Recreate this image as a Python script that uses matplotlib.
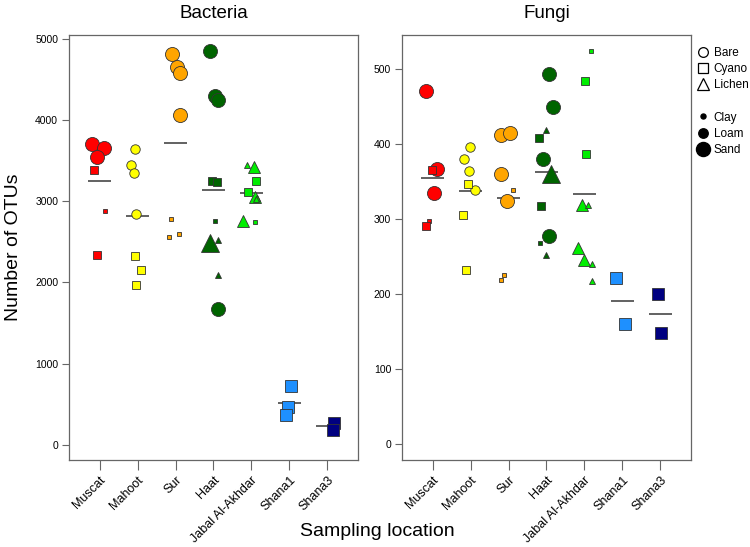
import numpy as np
import matplotlib.pyplot as plt
from matplotlib.lines import Line2D

plt.rcParams['font.family'] = 'Liberation Sans'

# Sampling locations and their colours
locations = ['Muscat', 'Mahoot', 'Sur', 'Haat', 'Jabal Al-Akhdar', 'Shana1', 'Shana3']
loc_colors = ['#FF0000', '#FFFF00', '#FFA500', '#006400', '#00EE00', '#1E90FF', '#000080']

# Bacteria: location (1-7), jittered x, OTUs, crust (B/C/L) and soil (c/l/s) per sample
bac_loc = [1]*6 + [2]*7 + [3]*7 + [4]*10 + [5]*9 + [6]*3 + [7]*2
bac_x = [0.80, 1.12, 0.94, 0.84, 1.15, 0.94,
         1.93, 1.83, 1.91, 1.97, 1.92, 2.10, 1.97,
         2.91, 3.03, 3.12, 3.12, 2.87, 3.08, 2.84,
         3.91, 4.04, 4.11, 4.12, 3.97, 4.09, 4.04, 3.91, 4.11, 4.11,
         4.89, 5.07, 5.12, 4.91, 5.09, 5.14, 5.11, 4.79, 5.10,
         6.03, 5.97, 5.91,
         7.17, 7.15]
bac_otus = [3708, 3655, 3544, 3383, 2878, 2343,
            3638, 3453, 3354, 2848, 2327, 2150, 1969,
            4821, 4653, 4579, 4065, 2787, 2598, 2565,
            4851, 4303, 4250, 1677, 3252, 3235, 2755, 2490, 2524, 2092,
            3449, 3424, 3248, 3112, 3058, 3040, 3025, 2758, 2750,
            728, 461, 366,
            265, 185]
bac_crust = 'BBBCCC' + 'BBBBCCC' + 'BBBBCCC' + 'BBBBCCCLLL' + 'LLCCLLLLC' + 'CCC' + 'CC'
bac_soil = 'ssslcl' + 'lllllll' + 'ssssccc' + 'ssssllcscc' + 'cllllcclc' + 'sss' + 'ss'

# Fungi
fun_loc = [1]*6 + [2]*7 + [3]*7 + [4]*10 + [5]*9 + [6]*2 + [7]*2
fun_x = [0.83, 1.12, 1.03, 0.98, 0.91, 0.82,
         1.98, 1.82, 1.96, 2.11, 1.92, 1.80, 1.89,
         2.81, 3.04, 2.80, 2.96, 3.13, 2.88, 2.81,
         4.06, 4.17, 3.90, 4.06, 3.80, 3.85, 3.83, 3.98, 3.99, 4.12,
         5.18, 5.02, 5.03, 4.94, 5.09, 4.84, 4.99, 5.19, 5.19,
         5.82, 6.08,
         6.93, 7.02]
fun_otus = [470.7, 366, 334, 365, 297, 291,
            396, 379.5, 364.4, 338, 347, 305, 232,
            411.5, 414.7, 359.5, 324.4, 339, 225, 218.7,
            493.7, 449, 380, 277.7, 408.4, 316.8, 267.5, 419, 252.4, 360,
            524, 484.4, 387, 319, 319, 260.8, 244.8, 240.4, 217.3,
            222, 160,
            200.4, 147.5]
fun_crust = 'BBBCCC' + 'BBBBCCC' + 'BBBBCCC' + 'BBBBCCCLLL' + 'CCCLLLLLL' + 'CC' + 'CC'
fun_soil = 'ssslcl' + 'lllllll' + 'ssssccc' + 'ssssllcccs' + 'clllcllcc' + 'ss' + 'ss'

markers = {'B': 'o', 'C': 's', 'L': '^'}
shape_scale = {'B': 1.0, 'C': 0.886, 'L': 1.3}
soil_size = {'c': 3.6, 'l': 6.8, 's': 10.1}

fig = plt.figure(figsize=(7.5, 5.47), dpi=100)
ax1 = fig.add_axes([0.0924, 0.159, 0.3845, 0.777])
ax2 = fig.add_axes([0.5364, 0.159, 0.3845, 0.777])


def draw_panel(ax, loc, xs, vals, crust, soil, title, ylim, yticks):
    for i in range(len(vals)):
        ax.plot(xs[i], vals[i], linestyle='none', marker=markers[crust[i]],
                ms=soil_size[soil[i]] * shape_scale[crust[i]],
                mfc=loc_colors[loc[i] - 1], mec='#333333', mew=0.6)
    loc_arr = np.array(loc)
    val_arr = np.array(vals)
    for k in range(1, len(locations) + 1):
        m = val_arr[loc_arr == k].mean()
        ax.hlines(m, k - 0.31, k + 0.31, color='#555555', lw=1.3, zorder=0)
    ax.set_xlim(0.2, 7.8)
    ax.set_ylim(*ylim)
    ax.set_yticks(yticks)
    ax.set_xticks(range(1, len(locations) + 1))
    ax.set_xticklabels(locations, rotation=45, ha='right', rotation_mode='anchor', fontsize=9)
    ax.tick_params(axis='y', labelsize=7.5, length=5, color='#666666', pad=3)
    ax.tick_params(axis='x', length=7, color='#666666', pad=3)
    for sp in ax.spines.values():
        sp.set_color('#666666')
        sp.set_linewidth(0.9)
    ax.set_title(title, fontsize=13.5, pad=12)


draw_panel(ax1, bac_loc, bac_x, bac_otus, bac_crust, bac_soil, 'Bacteria',
           (-189, 5049), range(0, 5001, 1000))
draw_panel(ax2, fun_loc, fun_x, fun_otus, fun_crust, fun_soil, 'Fungi',
           (-21, 545), range(0, 501, 100))

fig.text(14 / 750, 0.5475, 'Number of OTUs', rotation=90, ha='center', va='center', fontsize=14)
fig.text(377 / 750, 1 - 531 / 547, 'Sampling location', ha='center', va='center', fontsize=14)

# legend: crust type by shape, soil texture by size
handles = [
    Line2D([], [], ls='none', marker='o', ms=7, mfc='none', mec='black', mew=0.9, label='Bare'),
    Line2D([], [], ls='none', marker='s', ms=6.5, mfc='none', mec='black', mew=0.9, label='Cyano'),
    Line2D([], [], ls='none', marker='^', ms=9, mfc='none', mec='black', mew=0.9, label='Lichen'),
    Line2D([], [], ls='none', label=' '),
    Line2D([], [], ls='none', marker='o', ms=3.6, mfc='black', mec='black', label='Clay'),
    Line2D([], [], ls='none', marker='o', ms=6.8, mfc='black', mec='black', label='Loam'),
    Line2D([], [], ls='none', marker='o', ms=10.1, mfc='black', mec='black', label='Sand'),
]
fig.legend(handles=handles, loc='upper left', bbox_to_anchor=(697 / 750, 1 - 47 / 547),
           frameon=False, fontsize=8.5, handlelength=1.0, handletextpad=0.4,
           labelspacing=0.35, borderaxespad=0, borderpad=0)

fig.savefig('out.png', dpi=100)
